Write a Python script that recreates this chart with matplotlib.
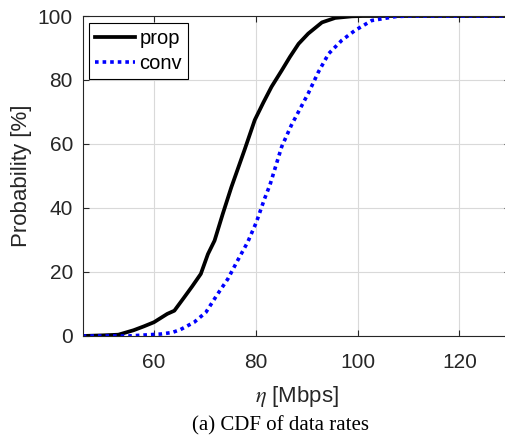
import matplotlib
matplotlib.use('Agg')
import matplotlib.pyplot as plt

# CDF values
prop_x = [46, 50, 53, 56, 58, 60, 62.6, 64, 65.9, 67.5, 69.2, 70.6, 71.9, 73.5, 75.2, 77.8, 79.8,
          81.5, 83.1, 85.1, 86.7, 88.4, 90.3, 93, 95.6, 98.9, 101, 130]
prop_y = [0, 0.2, 0.4, 1.8, 3, 4.3, 6.9, 7.9, 12, 15.5, 19.4, 25.6, 29.8, 38.1, 46.5, 58.2, 67.5,
          73, 77.9, 83, 87.2, 91.3, 94.5, 98, 99.4, 99.9, 100, 100]
conv_x = [46, 55, 61.3, 63.6, 65.2, 67.9, 70.2, 72.5, 74.5, 76.4, 78.4, 80.1, 81.7, 82.8, 85.1,
          87, 90.3, 92.3, 94.3, 96.9, 99.5, 102.8, 107.4, 110, 130]
conv_y = [0, 0, 0.6, 1.1, 2, 4.3, 7.4, 13.1, 17.8, 23.5, 29.3, 35.5, 42.8, 47.3, 59.2,
          65.9, 75.8, 82.5, 88.2, 92.4, 95.5, 98.6, 99.8, 100, 100]
x_ticks = [60, 80, 100, 120]
y_ticks = [0, 20, 40, 60, 80, 100]

plt.rcParams['font.family'] = ['Liberation Sans', 'DejaVu Sans']
plt.rcParams['mathtext.fontset'] = 'stix'

fig = plt.figure(figsize=(5.05, 4.36), dpi=100)
ax = fig.add_axes([0.1638, 0.2294, 1.0105 - 0.1638, 0.7339])
ax.plot(prop_x, prop_y, color='black', linewidth=2.7, label='prop')
ax.plot(conv_x, conv_y, color='#0000ff', linewidth=2.6, linestyle=(0, (1, 1.1)),
        dash_capstyle='butt', label='conv')
ax.set_xlim(46, 130)
ax.set_ylim(0, 100)
ax.set_xticks(x_ticks)
ax.set_yticks(y_ticks)
ax.grid(True, color='#d9d9d9', linewidth=0.8)
ax.set_axisbelow(True)
ax.tick_params(direction='in', length=4, width=0.8, labelsize=15, colors='#262626',
               top=True, right=True)
ax.tick_params(axis='x', pad=12)
ax.tick_params(axis='y', pad=7)
for spine in ax.spines.values():
    spine.set_color('#262626')
    spine.set_linewidth(0.8)
ax.set_ylabel('Probability [%]', fontsize=16, color='#262626', labelpad=4)
ax.set_xlabel(r'$\eta$ [Mbps]', fontsize=16, color='#262626', labelpad=9)
leg = ax.legend(loc='upper left', bbox_to_anchor=(0.015, 0.979), borderaxespad=0,
                fontsize=14.5, fancybox=False, edgecolor='black', framealpha=1,
                handlelength=2.0, handletextpad=0.2, borderpad=0.3, labelspacing=0.3)
leg.get_frame().set_linewidth(0.8)
fig.text(0.555, 0.023, '(a) CDF of data rates', fontsize=15, family='Liberation Serif',
         ha='center', va='center')
fig.savefig('out.png', dpi=100)
plt.close(fig)
